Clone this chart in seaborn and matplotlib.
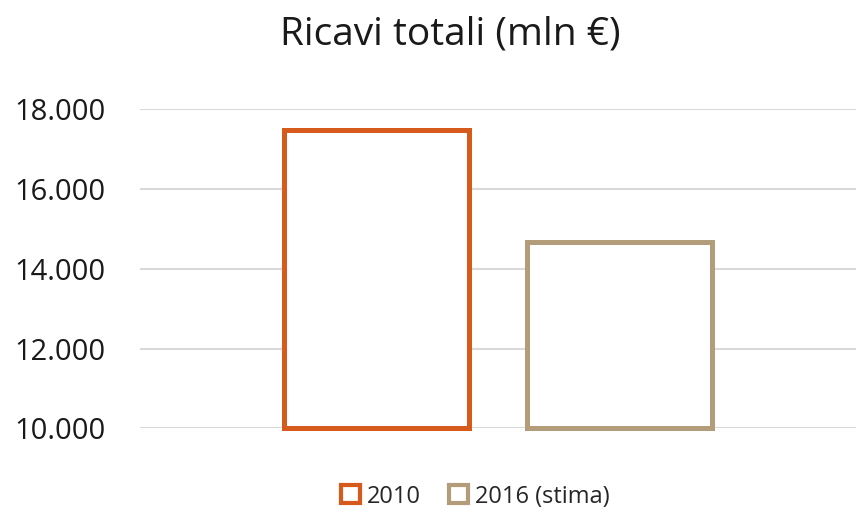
import matplotlib
matplotlib.use("Agg")
import matplotlib.pyplot as plt
from matplotlib.patches import Patch
from matplotlib.ticker import FuncFormatter
import pandas as pd
import seaborn as sns

# chart data
categories = ["Ricavi"]
series = ["2010", "2016 (stima)"]
values_2010 = [17470]
values_2016 = [14660]
colors = ["#D55A1B", "#B39C7A"]
y_ticks = [10000, 12000, 14000, 16000, 18000]

df = pd.DataFrame({
    "cat": categories * 2,
    "serie": [series[0]] * len(values_2010) + [series[1]] * len(values_2016),
    "val": values_2010 + values_2016,
})

sns.set_style("white")
plt.rcParams["font.family"] = ["Open Sans", "DejaVu Sans"]

fig = plt.figure(figsize=(8.56, 5.12), dpi=100)
ax = fig.add_axes([0.1636, 0.1635, 0.8364, 0.623])

sns.barplot(data=df, x="cat", y="val", hue="serie", palette=colors,
            width=0.68, gap=0.24, legend=False, ax=ax, errorbar=None)

# hollow bars starting at the axis baseline
base = y_ticks[0]
for p, c in zip(ax.patches, colors):
    p.set_facecolor("white")
    p.set_edgecolor(c)
    p.set_linewidth(3.6)
    p.set_y(base)
    p.set_height(p.get_height() - base)
    p.set_clip_on(False)
    p.set_zorder(3)

ax.set_ylim(y_ticks[0], y_ticks[-1])
ax.set_xlim(-0.5, 0.5)
ax.set_yticks(y_ticks)
ax.yaxis.set_major_formatter(FuncFormatter(lambda v, _: f"{v:,.0f}".replace(",", ".")))
ax.grid(axis="y", color="#D9D9D9", linewidth=1.5)
ax.set_axisbelow(True)
ax.tick_params(axis="y", labelsize=21, length=0, pad=25, labelcolor="#1a1a1a")
ax.set_xticks([])
ax.set_xlabel("")
ax.set_ylabel("")
sns.despine(ax=ax, left=True, bottom=True)

fig.text(0.526, 0.932, "Ricavi totali (mln €)", ha="center", va="center",
         fontsize=28, color="#1a1a1a")

handles = [Patch(facecolor="white", edgecolor=c, linewidth=3, label=s)
           for s, c in zip(series, colors)]
fig.legend(handles=handles, loc="center", bbox_to_anchor=(0.555, 0.03),
           ncol=2, frameon=False, fontsize=17, handlelength=0.8,
           handleheight=0.8, handletextpad=0.3, columnspacing=1.2)

fig.savefig("out.png", dpi=100)
